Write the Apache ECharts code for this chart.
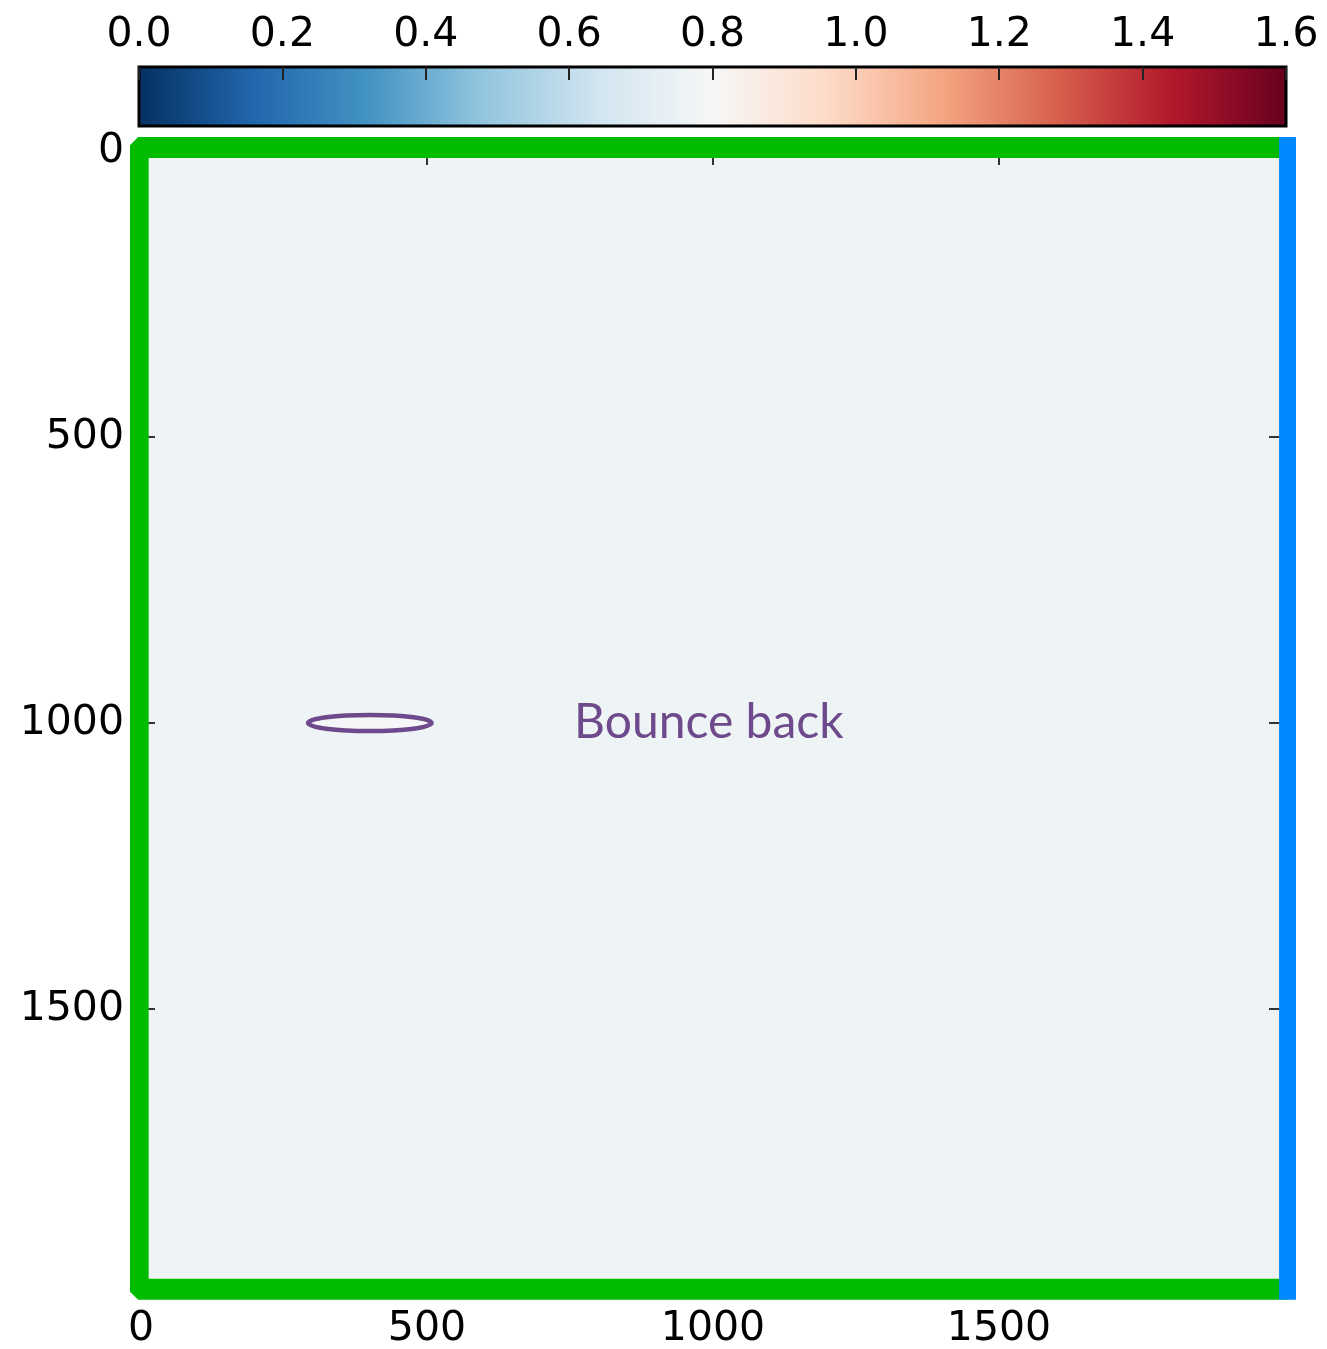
<!DOCTYPE html>
<html>
<head>
<meta charset="utf-8">
<title>Bounce back</title>
<script src="https://cdn.jsdelivr.net/npm/echarts@6/dist/echarts.min.js"></script>
<style>
  html, body { margin: 0; padding: 0; background: #ffffff; }
  #chart { width: 1327px; height: 1349px; }
</style>
</head>
<body>
<div id="chart"></div>
<script>
// Colour scale (RdBu reversed) and its range
const colorStops = ['#053061', '#2166ac', '#4393c3', '#92c5de', '#d1e5f0', '#f7f7f7',
                    '#fddbc7', '#f4a582', '#d6604d', '#b2182b', '#67001f'];
const colorMin = 0.0;
const colorMax = 1.6;
const colorTickStep = 0.2;

// Domain extent and tick step (lattice units)
const domainMin = 0;
const domainMax = 2000;
const domainTickStep = 500;

// Field: cell edges and the value of each cell, row by row (top to bottom)
const cellEdgesX = [0, 500, 1000, 1500, 2000];
const cellEdgesY = [0, 500, 1000, 1500, 2000];
const fieldRows = [
  [0.76, 0.76, 0.76, 0.76],
  [0.76, 0.76, 0.76, 0.76],
  [0.76, 0.76, 0.76, 0.76],
  [0.76, 0.76, 0.76, 0.76]
];

// Boundary lines: walls (left, top, bottom) and the outlet (right)
const wallPath = [[2005, -6], [-5, -6], [-5, 1990], [2005, 1990]];
const outletPath = [[2008, -6], [2008, 1990]];

// Marked region and its label
const bounceRegion = [[400, 1000, 108, 14, 0.79]]; // cx, cy, rx, ry, value
const bounceLabel = [[757, 1000]];
const bounceText = 'Bounce back';

// Build field cells [x0, y0, x1, y1, value]
const fieldCells = [];
fieldRows.forEach(function (row, j) {
  row.forEach(function (v, i) {
    fieldCells.push([cellEdgesX[i], cellEdgesY[j], cellEdgesX[i + 1], cellEdgesY[j + 1], v]);
  });
});

const GREEN = '#00bb00';
const BLUE = '#0088ff';
const PURPLE = '#6e4a8c';
function ticks(len) {
  return { show: true, inside: true, length: len, lineStyle: { color: '#333', width: 2 } };
}
const LABEL_FONT = { fontFamily: 'DejaVu Sans', fontSize: 41, color: '#000' };
const plainNumber = function (v) { return String(v); };

const chart = echarts.init(document.getElementById('chart'), null, { renderer: 'canvas' });

const option = {
  backgroundColor: '#ffffff',
  animation: false,
  grid: [
    { left: 141, top: 151, width: 1144, height: 1144, containLabel: false, outerBoundsMode: 'none' },
    { left: 139, top: 67, width: 1147, height: 59, containLabel: false, outerBoundsMode: 'none' }
  ],
  visualMap: {
    type: 'continuous',
    show: false,
    min: colorMin,
    max: colorMax,
    dimension: 4,
    seriesIndex: [0, 1],
    inRange: { color: colorStops }
  },
  xAxis: [
    {
      gridIndex: 0, type: 'value', position: 'bottom', z: 5,
      min: domainMin, max: domainMax, interval: domainTickStep,
      axisLine: { show: false, onZero: false }, splitLine: { show: false },
      axisTick: ticks(14),
      axisLabel: Object.assign({ margin: 14, showMaxLabel: false, formatter: plainNumber }, LABEL_FONT)
    },
    {
      gridIndex: 0, type: 'value', position: 'top', z: 5,
      min: domainMin, max: domainMax, interval: domainTickStep,
      axisLine: { show: false, onZero: false }, splitLine: { show: false },
      axisTick: ticks(14), axisLabel: { show: false }
    },
    {
      gridIndex: 1, type: 'value', position: 'top', z: 5,
      min: colorMin, max: colorMax, interval: colorTickStep,
      axisLine: { show: false, onZero: false }, splitLine: { show: false },
      axisTick: { show: true, inside: true, length: 13, lineStyle: { color: '#222', width: 2 } },
      axisLabel: {
        margin: 11, fontSize: 41, fontFamily: 'DejaVu Sans', color: '#000',
        formatter: function (v) { return v.toFixed(1); }
      }
    }
  ],
  yAxis: [
    {
      gridIndex: 0, type: 'value', position: 'left', inverse: true, z: 5,
      min: domainMin, max: domainMax, interval: domainTickStep,
      axisLine: { show: false, onZero: false }, splitLine: { show: false },
      axisTick: ticks(14),
      axisLabel: Object.assign({ margin: 17, showMaxLabel: false, formatter: plainNumber }, LABEL_FONT)
    },
    {
      gridIndex: 0, type: 'value', position: 'right', inverse: true, z: 5,
      min: domainMin, max: domainMax, interval: domainTickStep,
      axisLine: { show: false, onZero: false }, splitLine: { show: false },
      axisTick: ticks(16), axisLabel: { show: false }
    },
    {
      gridIndex: 1, type: 'value', min: 0, max: 1, show: false,
      axisLine: { onZero: false }
    }
  ],
  series: [
    {
      // field cells
      type: 'custom', xAxisIndex: 0, yAxisIndex: 0, z: 1, silent: true,
      encode: { x: [0, 2], y: [1, 3] },
      data: fieldCells,
      renderItem: function (params, api) {
        const p0 = api.coord([api.value(0), api.value(1)]);
        const p1 = api.coord([api.value(2), api.value(3)]);
        return {
          type: 'rect',
          shape: { x: p0[0], y: p0[1], width: p1[0] - p0[0] + 1, height: p1[1] - p0[1] + 1 },
          style: { fill: api.visual('color') }
        };
      }
    },
    {
      // marked region
      type: 'custom', xAxisIndex: 0, yAxisIndex: 0, z: 6, silent: true,
      encode: { x: 0, y: 1 },
      data: bounceRegion,
      renderItem: function (params, api) {
        const c = api.coord([api.value(0), api.value(1)]);
        const s = api.size([api.value(2), api.value(3)]);
        return {
          type: 'ellipse',
          shape: { cx: c[0], cy: c[1], rx: s[0], ry: s[1] },
          style: { fill: api.visual('color'), stroke: PURPLE, lineWidth: 4.5 }
        };
      }
    },
    {
      // region label
      type: 'custom', xAxisIndex: 0, yAxisIndex: 0, z: 6, silent: true,
      encode: { x: 0, y: 1 },
      data: bounceLabel,
      renderItem: function (params, api) {
        const p = api.coord([api.value(0), api.value(1)]);
        return {
          type: 'text',
          x: p[0], y: p[1],
          style: {
            text: bounceText, fill: PURPLE,
            font: '48px Lato', align: 'left', verticalAlign: 'middle'
          }
        };
      }
    },
    {
      // walls
      type: 'line', xAxisIndex: 0, yAxisIndex: 0, z: 10, clip: false, silent: true,
      symbol: 'none', data: wallPath,
      lineStyle: { color: GREEN, width: 21, join: 'bevel', cap: 'butt' }
    },
    {
      // outlet
      type: 'line', xAxisIndex: 0, yAxisIndex: 0, z: 11, clip: false, silent: true,
      symbol: 'none', data: outletPath,
      lineStyle: { color: BLUE, width: 21, cap: 'square' }
    },
    {
      // colour bar
      type: 'custom', xAxisIndex: 2, yAxisIndex: 2, z: 1, silent: true,
      data: [[colorMin, colorMax]],
      renderItem: function (params, api) {
        const p0 = api.coord([colorMin, 1]);
        const p1 = api.coord([colorMax, 0]);
        const stops = colorStops.map(function (c, i) {
          return { offset: i / (colorStops.length - 1), color: c };
        });
        return {
          type: 'rect',
          shape: { x: p0[0], y: p0[1], width: p1[0] - p0[0], height: p1[1] - p0[1] },
          style: {
            fill: new echarts.graphic.LinearGradient(0, 0, 1, 0, stops),
            stroke: '#000', lineWidth: 3
          }
        };
      }
    }
  ]
};

chart.setOption(option);
</script>
</body>
</html>
